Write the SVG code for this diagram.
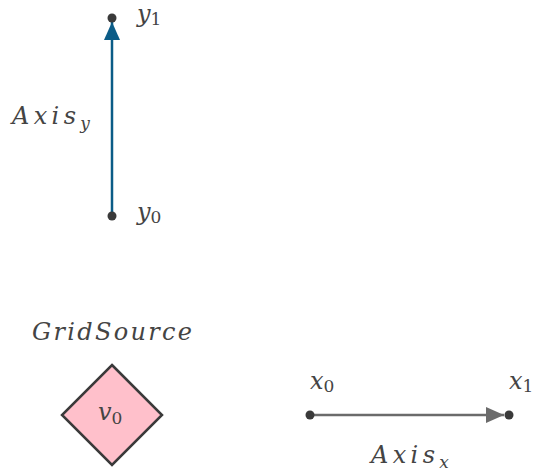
<svg xmlns="http://www.w3.org/2000/svg" width="536" height="473" viewBox="0 0 536 473">
<style>
.t{font-family:"DejaVu Serif","Liberation Serif",serif;font-style:italic;font-size:24px;fill:#444}
.s{font-style:normal;font-size:17px}
.si{font-style:italic;font-size:17px}
.dot{fill:#3a3a3a}
</style>
<defs>
<marker id="ab" markerWidth="18" markerHeight="16" refX="18" refY="8" orient="auto" markerUnits="userSpaceOnUse"><path d="M0,0 L18,8 L0,16 Z" fill="#0b5c87"/></marker>
<marker id="ag" markerWidth="18" markerHeight="16" refX="18" refY="8" orient="auto" markerUnits="userSpaceOnUse"><path d="M0,0 L18,8 L0,16 Z" fill="#6b6b6b"/></marker>
</defs>
<g id="connectors">
<line x1="112" y1="216" x2="112" y2="22" stroke="#0b5c87" stroke-width="2.5" marker-end="url(#ab)"/>
<line x1="310" y1="415" x2="504" y2="415" stroke="#6b6b6b" stroke-width="2.5" marker-end="url(#ag)"/>
</g>
<g id="y0"><circle class="dot" cx="112" cy="216" r="4.5"/><text class="t" x="137" y="220">y<tspan class="s" dy="3">0</tspan></text></g>
<g id="y1"><circle class="dot" cx="112" cy="18" r="4.5"/><text class="t" x="137" y="22">y<tspan class="s" dy="3">1</tspan></text></g>
<g id="axisy-label"><text class="t" x="12" y="124"><tspan textLength="64">Axis</tspan><tspan class="si" dy="5">y</tspan></text></g>
<g id="v0">
<text class="t" x="112" y="340" text-anchor="middle" textLength="160">GridSource</text>
<path d="M112,365 L162,415 L112,465 L62,415 Z" fill="#ffc0cb" stroke="#3a3a3a" stroke-width="2.5"/>
<text class="t" x="98" y="420">v<tspan class="s" dy="4">0</tspan></text>
</g>
<g id="x0"><circle class="dot" cx="310" cy="415" r="4.5"/><text class="t" x="310" y="389">x<tspan class="s" dy="3">0</tspan></text></g>
<g id="x1"><circle class="dot" cx="509" cy="415" r="4.5"/><text class="t" x="509" y="389">x<tspan class="s" dy="3">1</tspan></text></g>
<g id="axisx-label"><text class="t" x="371" y="463"><tspan textLength="64">Axis</tspan><tspan class="si" dy="5">x</tspan></text></g>
</svg>
